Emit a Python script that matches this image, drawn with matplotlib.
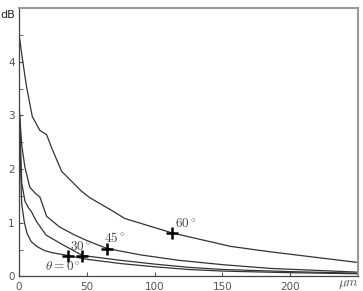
import numpy as np
import matplotlib; matplotlib.use("Agg")
import matplotlib.pyplot as plt

plt.rcParams["mathtext.fontset"] = "cm"

# attenuation curves (dB) vs thickness (um), one per incidence angle
x0 = [0.5, 2, 4, 6, 9, 13, 19, 25, 36, 50, 75, 100, 125, 150, 200, 250]
y0 = [2.6, 1.35, 1.0, 0.80, 0.65, 0.56, 0.48, 0.44, 0.39, 0.32, 0.24, 0.18, 0.13, 0.10, 0.07, 0.05]
x30 = [0.5, 2, 4.4, 7, 9.3, 13, 20, 33, 47, 75, 100, 125, 150, 200, 250]
y30 = [3.0, 1.75, 1.40, 1.28, 1.20, 1.02, 0.77, 0.58, 0.39, 0.30, 0.23, 0.17, 0.13, 0.09, 0.06]
x45 = [0, 2, 4.4, 8, 12, 15.4, 20.4, 30, 42, 50, 65, 90, 118, 150, 185, 250]
y45 = [3.22, 2.45, 2.03, 1.66, 1.55, 1.48, 1.12, 0.92, 0.76, 0.67, 0.52, 0.40, 0.30, 0.22, 0.15, 0.08]
x60 = [0, 2.7, 5.6, 9.8, 15.4, 20.4, 24, 31.4, 46, 52, 67, 78, 113, 156, 185, 250]
y60 = [4.52, 4.02, 3.53, 2.98, 2.72, 2.64, 2.40, 1.96, 1.59, 1.47, 1.25, 1.08, 0.81, 0.56, 0.46, 0.26]

mark_x = [36.3, 46.8, 65, 113]
mark_y = [0.39, 0.39, 0.52, 0.81]
labels = [r"$\theta = 0^\circ$", r"$30^\circ$", r"$45^\circ$", r"$60^\circ$"]
lab_x = [32.5, 45.6, 70.6, 123.3]
lab_y = [0.18, 0.54, 0.71, 0.98]

fig = plt.figure(figsize=(3.63, 2.91), dpi=100)
ax = fig.add_axes([0.0523, 0.05, 0.934, 0.9225])

for xs, ys in [(x0, y0), (x30, y30), (x45, y45), (x60, y60)]:
    ax.plot(xs, ys, color="#333333", lw=0.9)
ax.plot(mark_x, mark_y, "+", color="black", ms=8, mew=1.8)
for t, xx, yy in zip(labels, lab_x, lab_y):
    ax.text(xx, yy, t, ha="center", va="center", fontsize=9.5, color="#444444")

ax.set_xlim(0, 250); ax.set_ylim(0, 5)
ax.set_xticks([0, 50, 100, 150, 200])
ax.set_yticks([0, 1, 2, 3, 4])
ax.set_yticks(np.arange(0.5, 5, 1), minor=True)
ax.tick_params(which="both", direction="in", length=3, labelsize=7.5,
               labelcolor="#555555", color="#555555", pad=3)
ax.tick_params(axis="x", pad=4)
for s in ["left", "bottom"]:
    ax.spines[s].set_color("#444444"); ax.spines[s].set_linewidth(0.9)
for s in ["top", "right"]:
    ax.spines[s].set_color("#999999"); ax.spines[s].set_linewidth(1.5)

fig.text(0.0, 0.948, "dB", fontsize=8, color="#222222", ha="left", va="center")
fig.text(0.988, 0.022, r"$\mu m$", fontsize=9.5, color="#555555", ha="right", va="center")

fig.savefig("out.png", dpi=100)
